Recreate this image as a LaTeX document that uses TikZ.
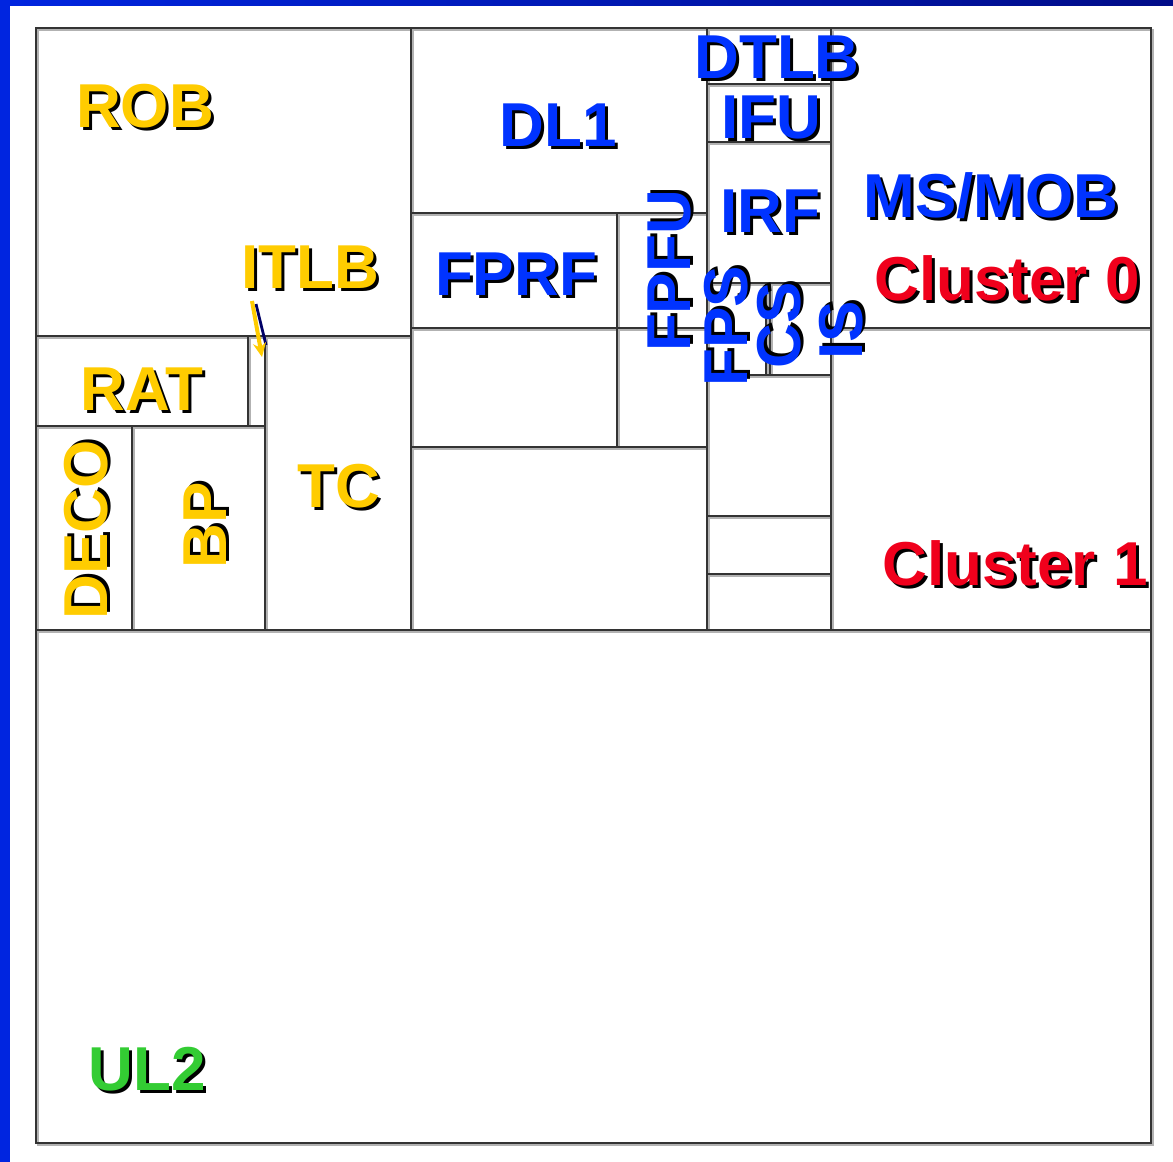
\documentclass[tikz,border=0pt]{standalone}
\usepackage{fontspec}
\setmainfont{Liberation Sans}
\usetikzlibrary{arrows.meta}
\definecolor{cyel}{HTML}{FFCC00}
\definecolor{cblu}{HTML}{0033FF}
\definecolor{cred}{HTML}{F0001C}
\definecolor{cgrn}{HTML}{33CC33}
\definecolor{bord}{HTML}{0025E0}
\definecolor{bordd}{HTML}{000C88}
\definecolor{ln}{HTML}{333333}
\definecolor{navy}{HTML}{000066}
\newcommand{\mklabel}[5]{%
  \node[lbl, text=black, rotate=#4, xshift=3pt, yshift=-3pt] (#1s) at (#2) {#5};
  \node[lbl, text=#3, rotate=#4] (#1) at (#2) {#5};
}
\newcommand{\planpath}[1]{%
  \draw[#1]
  (36,28) rectangle (1151,1143)
  (36,630) -- (1151,630)
  (36,336) -- (411,336)
  (36,426) -- (265,426)
  (248,336) -- (248,426)
  (265,336) -- (265,630)
  (132,426) -- (132,630)
  (411,28) -- (411,630)
  (411,213) -- (707,213)
  (411,328) -- (707,328)
  (617,213) -- (617,447)
  (411,447) -- (707,447)
  (707,28) -- (707,630)
  (831,28) -- (831,630)
  (707,84) -- (831,84)
  (707,142) -- (831,142)
  (707,283) -- (831,283)
  (766,283) -- (766,375)
  (770,283) -- (770,375)
  (707,375) -- (831,375)
  (707,516) -- (831,516)
  (707,574) -- (831,574)
  (831,328) -- (1151,328);
}
\begin{document}
\begin{tikzpicture}[x=1pt,y=-1pt,
  lbl/.style={font=\fontsize{62}{62}\selectfont\bfseries, inner sep=0pt, anchor=base},
  wall/.style={ln, line width=2pt},
  wallsh/.style={black!30, line width=2pt, shift={(1.5,1.5)}}]
\useasboundingbox (0,0) rectangle (1173,1162);
\fill[white] (0,0) rectangle (1173,1162);
\shade[left color=bord, right color=bordd] (0,0) rectangle (1173,5);
\fill[bord] (0,0) rectangle (10,1162);
\planpath{wallsh}
\planpath{wall}
% ITLB arrow
\coordinate (itlbA) at (252,301);
\coordinate (itlbB) at (262,357);
\coordinate (itlbAs) at (256,304);
\coordinate (itlbBs) at (266,345);
\draw[navy, line width=2.8pt] (itlbAs) -- (itlbBs);
\draw[cyel, line width=4pt, -{Stealth[length=14pt,width=13pt]}] (itlbA) -- (itlbB);
% labels
\mklabel{rob}{145,127}{cyel}{0}{ROB}
\mklabel{itlb}{310,288}{cyel}{0}{ITLB}
\mklabel{rat}{142,410}{cyel}{0}{RAT}
\mklabel{tc}{339,507}{cyel}{0}{TC}
\mklabel{deco}{107,530}{cyel}{90}{DECO}
\mklabel{bp}{226,525}{cyel}{90}{BP}
\mklabel{dl1}{558,146}{cblu}{0}{DL1}
\mklabel{fprf}{516,295}{cblu}{0}{FPRF}
\mklabel{dtlb}{777,78}{cblu}{0}{DTLB}
\mklabel{ifu}{771,138}{cblu}{0}{IFU}
\mklabel{irf}{770,232}{cblu}{0}{IRF}
\mklabel{fpfu}{690,271}{cblu}{90}{FPFU}
\mklabel{fps}{747,326}{cblu}{90}{FPS}
\mklabel{cs}{800,325}{cblu}{90}{CS}
\mklabel{is}{862,330}{cblu}{90}{IS}
\mklabel{msmob}{991,217}{cblu}{0}{MS/MOB}
\mklabel{cl0}{1007,300}{cred}{0}{Cluster 0}
\mklabel{cl1}{1015,585}{cred}{0}{Cluster 1}
\mklabel{ul2}{147,1090}{cgrn}{0}{UL2}
\end{tikzpicture}
\end{document}
